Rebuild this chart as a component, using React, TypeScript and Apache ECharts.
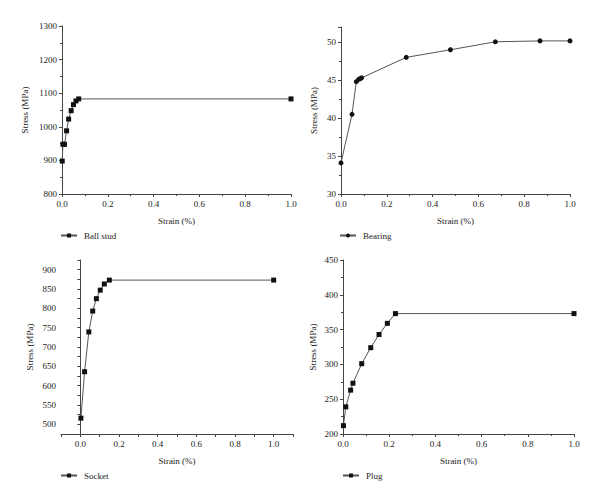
import React, { useEffect, useRef } from "react";
import * as echarts from "echarts";

const ballStudStrain = [0.001, 0.004, 0.011, 0.02, 0.029, 0.04, 0.05, 0.061, 0.073, 1.0];
const ballStudStress = [898, 948, 948, 988, 1023, 1048, 1066, 1077, 1083, 1083];

const bearingStrain = [0.0, 0.048, 0.067, 0.077, 0.084, 0.09, 0.285, 0.478, 0.674, 0.869, 1.0];
const bearingStress = [34.1, 40.5, 44.8, 45.1, 45.2, 45.3, 48.0, 49.0, 50.05, 50.17, 50.17];

const socketStrain = [0.003, 0.022, 0.044, 0.064, 0.083, 0.103, 0.124, 0.15, 1.0];
const socketStress = [516, 636, 739, 793, 825, 847, 863, 873, 873];

const plugStrain = [0.002, 0.012, 0.033, 0.043, 0.081, 0.12, 0.156, 0.192, 0.227, 1.0];
const plugStress = [212, 239, 263, 273, 301, 324, 343, 359, 373, 373];

const names = ["Ball stud", "Bearing", "Socket", "Plug"];
const xLabel = "Strain (%)";
const yLabel = "Stress (MPa)";

const FONT = "Liberation Serif";
const TXT = "#222";
const AX = "#444";

const pairs = (xs: number[], ys: number[]) => xs.map((x, i) => [x, ys[i]]);

export default function App() {
  const ref = useRef<HTMLDivElement>(null);
  useEffect(() => {
    if (!ref.current) return;
    const chart = echarts.init(ref.current, undefined, { renderer: "svg" });

    const grids = [
      { left: 62, top: 26, width: 229, height: 168 },
      { left: 341, top: 27, width: 229, height: 167 },
      { left: 61, top: 260, width: 232, height: 174 },
      { left: 343, top: 260, width: 231, height: 174 },
    ];

    const axisCommon = {
      axisLine: { show: true, lineStyle: { color: AX, width: 1 } },
      axisTick: { show: true, length: 3, lineStyle: { color: AX } },
      minorTick: { show: true, splitNumber: 2, length: 2, lineStyle: { color: AX } },
      splitLine: { show: false },
      axisLabel: { color: TXT, fontFamily: FONT, fontSize: 9, margin: 5 },
      nameTextStyle: { color: TXT, fontFamily: FONT, fontSize: 9 },
    };

    const fmt1 = (v: number) => v.toFixed(1);
    const fmtEven = (v: number) =>
      Math.abs(Math.round(v * 10) % 2) === 0 ? v.toFixed(1) : "";

    const xAxes = [0, 1, 2, 3].map((i) => ({
      ...axisCommon,
      type: "value",
      gridIndex: i,
      min: i === 2 ? -0.1 : 0,
      max: i === 2 ? 1.1 : 1,
      interval: i === 2 ? 0.1 : 0.2,
      minorTick: i === 2 ? { show: false } : axisCommon.minorTick,
      name: xLabel,
      nameLocation: "middle",
      nameGap: 22,
      axisLabel: { ...axisCommon.axisLabel, formatter: i === 2 ? fmtEven : fmt1 },
    }));

    const yCfg = [
      { min: 800, max: 1300, interval: 100, gap: 33, formatter: (v: number) => String(v) },
      { min: 30, max: 52, interval: 5, gap: 23, formatter: (v: number) => (v % 5 === 0 ? String(v) : "") },
      { min: 475, max: 925, interval: 25, gap: 27, formatter: (v: number) => (v % 50 === 0 ? String(v) : "") },
      { min: 200, max: 450, interval: 50, gap: 26, formatter: (v: number) => String(v) },
    ];

    const yAxes = yCfg.map((c, i) => ({
      ...axisCommon,
      type: "value",
      gridIndex: i,
      min: c.min,
      max: c.max,
      interval: c.interval,
      minorTick: i === 2 ? { show: false } : axisCommon.minorTick,
      name: yLabel,
      nameLocation: "middle",
      nameGap: c.gap,
      axisLabel: { ...axisCommon.axisLabel, formatter: c.formatter, showMaxLabel: i === 1 ? false : undefined },
    }));

    const datasets = [
      pairs(ballStudStrain, ballStudStress),
      pairs(bearingStrain, bearingStress),
      pairs(socketStrain, socketStress),
      pairs(plugStrain, plugStress),
    ];

    const series = datasets.map((d, i) => ({
      type: "line",
      name: names[i],
      xAxisIndex: i,
      yAxisIndex: i,
      data: d,
      symbol: i === 1 ? "circle" : "rect",
      symbolSize: 5,
      showAllSymbol: true,
      lineStyle: { color: "#555", width: 1 },
      itemStyle: { color: "#111" },
    }));

    const legendPos = [
      { left: 60, top: 231 },
      { left: 339, top: 231 },
      { left: 60, top: 471 },
      { left: 342, top: 471 },
    ];

    const legends = legendPos.map((p, i) => ({
      data: [names[i]],
      left: p.left,
      top: p.top,
      itemWidth: 16,
      itemHeight: 5,
      itemGap: 6,
      padding: 0,
      textStyle: { color: TXT, fontFamily: FONT, fontSize: 9, padding: [0, 0, 0, 2] },
    }));

    chart.setOption({
      animation: false,
      backgroundColor: "#ffffff",
      grid: grids,
      xAxis: xAxes,
      yAxis: yAxes,
      legend: legends,
      series,
    } as any);

    return () => chart.dispose();
  }, []);

  return (
    <div
      ref={ref}
      style={{ position: "fixed", left: 0, top: 0, width: 600, height: 503, background: "#fff" }}
    />
  );
}
